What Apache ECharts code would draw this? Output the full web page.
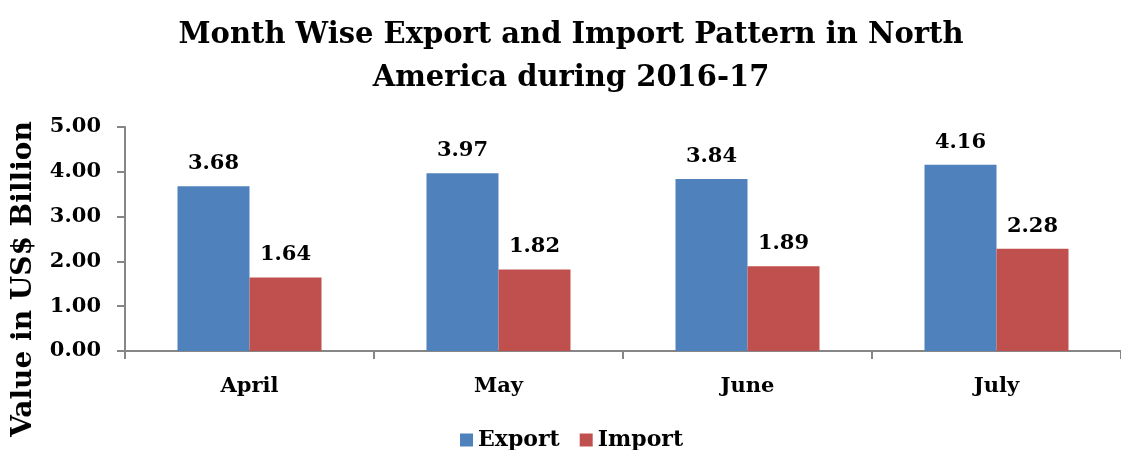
<!DOCTYPE html>
<html>
<head>
<meta charset="utf-8">
<script src="https://cdn.jsdelivr.net/npm/echarts@6/dist/echarts.min.js"></script>
<style>
  html, body { margin: 0; padding: 0; background: #fff; }
  #chart { width: 1121px; height: 450px; }
</style>
</head>
<body>
<div id="chart"></div>
<script>
// data
var months = ['April', 'May', 'June', 'July'];
var exportVals = [3.68, 3.97, 3.84, 4.16];
var importVals = [1.64, 1.82, 1.89, 2.28];
var yTicks = [0, 1, 2, 3, 4, 5];

var serif = '"DejaVu Serif", "Liberation Serif", serif';
var axisGray = '#868686';

var myChart = echarts.init(document.getElementById('chart'));

// label above each bar
function barLabel() {
  return {
    show: true,
    position: 'top',
    distance: 12,
    fontFamily: serif,
    fontWeight: 'bold',
    fontSize: 21,
    color: '#000',
    formatter: function (p) { return p.value.toFixed(2); }
  };
}

myChart.setOption({
  backgroundColor: '#fff',
  animation: false,
  title: {
    text: 'Month Wise Export and Import Pattern in North\nAmerica during 2016-17',
    left: 566,
    top: 9,
    textAlign: 'center',
    textStyle: {
      fontFamily: serif,
      fontWeight: 'bold',
      fontSize: 29,
      lineHeight: 43,
      color: '#000'
    }
  },
  legend: {
    data: ['Export', 'Import'],
    left: 455,
    top: 424,
    itemWidth: 13,
    itemHeight: 13,
    itemGap: 20,
    icon: 'rect',
    textStyle: {
      fontFamily: serif,
      fontWeight: 'bold',
      fontSize: 22,
      color: '#000'
    }
  },
  graphic: [{
    type: 'text',
    x: 24,
    y: 279,
    rotation: Math.PI / 2,
    style: {
      text: 'Value in US$ Billion',
      fontFamily: serif,
      fontWeight: 'bold',
      fontSize: 28,
      fill: '#000',
      align: 'center',
      verticalAlign: 'middle'
    }
  }],
  grid: {
    left: 125,
    top: 127,
    width: 1005,
    height: 224,
    containLabel: false
  },
  xAxis: {
    type: 'category',
    data: months,
    axisLine: { lineStyle: { color: axisGray, width: 2 } },
    axisTick: { show: true, length: 8, lineStyle: { color: axisGray, width: 2 } },
    axisLabel: {
      margin: 25,
      fontFamily: serif,
      fontWeight: 'bold',
      fontSize: 21,
      color: '#000'
    }
  },
  yAxis: {
    type: 'value',
    min: yTicks[0],
    max: yTicks[yTicks.length - 1],
    interval: 1,
    splitLine: { show: false },
    axisLine: { show: true, lineStyle: { color: axisGray, width: 2 } },
    axisTick: { show: true, length: 8, lineStyle: { color: axisGray, width: 2 } },
    axisLabel: {
      margin: 24,
      fontFamily: serif,
      fontWeight: 'bold',
      fontSize: 21,
      color: '#000',
      formatter: function (v) { return v.toFixed(2); }
    }
  },
  series: [{
    name: 'Export',
    type: 'bar',
    data: exportVals,
    barWidth: 72,
    barGap: '0%',
    itemStyle: { color: '#4F81BD' },
    label: barLabel()
  }, {
    name: 'Import',
    type: 'bar',
    data: importVals,
    barWidth: 72,
    barGap: '0%',
    itemStyle: { color: '#C0504D' },
    label: barLabel()
  }]
});

window.onresize = function () {
  myChart.resize();
};
</script>
</body>
</html>
